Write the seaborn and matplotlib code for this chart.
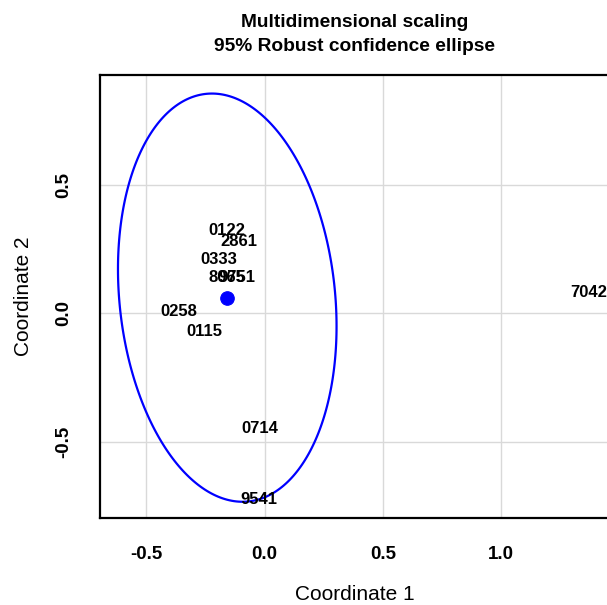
import numpy as np
import pandas as pd
import seaborn as sns
import matplotlib.pyplot as plt

# MDS coordinates
labels = ['0122', '2861', '0333', '8065', '9751', '0258', '0115', '0714', '9541', '7042']
coord1 = [-0.160, -0.109, -0.192, -0.161, -0.119, -0.362, -0.254, -0.021, -0.026, 1.372]
coord2 = [0.323, 0.280, 0.211, 0.141, 0.141, 0.006, -0.071, -0.446, -0.721, 0.081]

# robust centre and shape of the 95% ellipse
center = [-0.158, 0.061]
half_width = 0.462
half_height = 0.792
rho = -0.14

xticks = [-0.5, 0.0, 0.5, 1.0]
xticklabels = ['-0.5', '0.0', '0.5', '1.0']
yticks = [-0.5, 0.0, 0.5]
yticklabels = ['-0.5', '0.0', '0.5']

sns.set_style('white')
plt.rcParams['font.family'] = ['Liberation Sans', 'DejaVu Sans']
plt.rcParams['text.color'] = 'black'
plt.rcParams['axes.labelcolor'] = 'black'
plt.rcParams['xtick.color'] = 'black'
plt.rcParams['ytick.color'] = 'black'

df = pd.DataFrame({'label': labels, 'c1': coord1, 'c2': coord2})

# ellipse outline (closed path, no duplicated end point)
t = np.linspace(0, 2 * np.pi, 300, endpoint=False)
ell = pd.DataFrame({
    'x': center[0] + half_width * np.cos(t),
    'y': center[1] + half_height * (rho * np.cos(t) + np.sqrt(1 - rho ** 2) * np.sin(t)),
})

fig = plt.figure(figsize=(6.07, 6.05), dpi=100)
ax = fig.add_axes([100 / 607, 1 - 518 / 605, 510 / 607, (518 - 75) / 605])

ax.grid(True, color='#d9d9d9', linewidth=1.0, zorder=0)
ax.set_axisbelow(True)

ax.fill(ell['x'], ell['y'], fill=False, edgecolor='blue', linewidth=1.6, zorder=3)
sns.scatterplot(x=[center[0]], y=[center[1]], color='blue', s=95, edgecolor='blue',
                ax=ax, zorder=4)

for _, r in df.iterrows():
    ax.text(r['c1'], r['c2'], r['label'], ha='center', va='center',
            fontsize=12, fontweight='bold', color='black', zorder=5)

ax.set_xlim(-0.696, 1.46)
ax.set_ylim(-0.794, 0.925)

ax.set_xticks(xticks, xticklabels, fontsize=13.5, fontweight='bold')
ax.set_yticks(yticks, yticklabels, fontsize=13.5, fontweight='bold',
              rotation=90, va='center')
ax.tick_params(axis='x', length=7, width=1, pad=13, color='#333333')
ax.tick_params(axis='y', length=7, width=1, pad=13, color='#333333')

ax.set_xlabel('Coordinate 1', fontsize=15, labelpad=16)
ax.set_ylabel('Coordinate 2', fontsize=15, labelpad=16)

ax.set_title('Multidimensional scaling\n95% Robust confidence ellipse',
             fontsize=13.8, fontweight='bold', pad=17, linespacing=1.6)

for side in ['left', 'bottom', 'top']:
    ax.spines[side].set_color('black')
    ax.spines[side].set_linewidth(1.6)
    ax.spines[side].set_visible(True)
ax.spines['right'].set_visible(False)

fig.savefig('out.png', dpi=100)
